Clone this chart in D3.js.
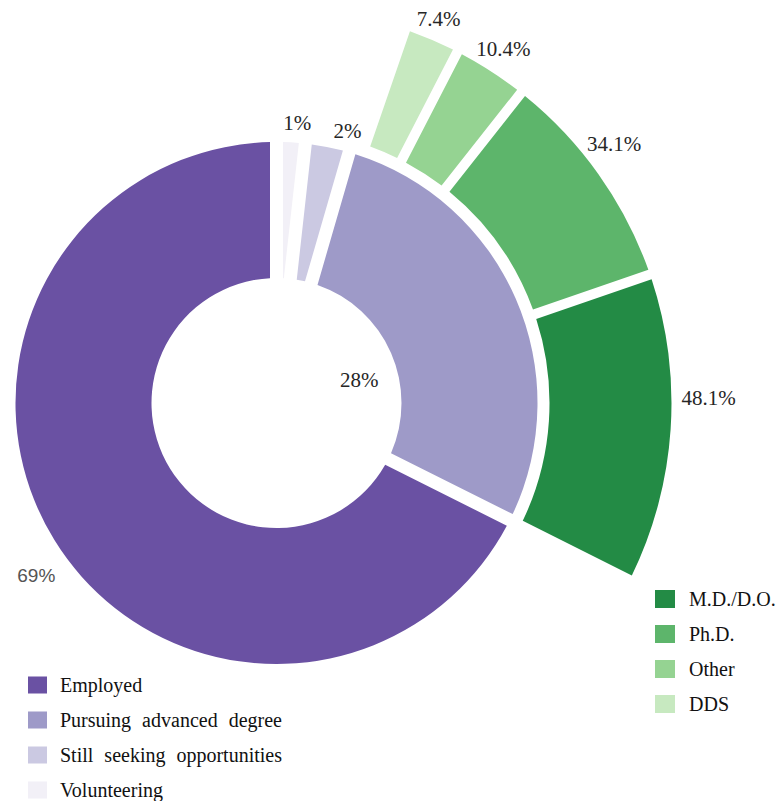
<!DOCTYPE html>
<html>
<head>
<meta charset="utf-8">
<script src="https://cdn.jsdelivr.net/npm/d3@7"></script>
<style>
  html, body { margin: 0; padding: 0; background: #fff; }
  svg { display: block; }
</style>
</head>
<body>
<svg id="chart" width="783" height="801"></svg>
<script>
// Post-graduation outcomes (inner ring) and the breakdown of advanced degrees (outer ring)
const outcomeLabels = ["Employed", "Pursuing advanced degree", "Still seeking opportunities", "Volunteering"];
const outcomeValues = [69, 28, 2, 1];
const outcomeColors = ["#6a51a3", "#9e9ac8", "#cbc9e2", "#f2f0f7"];

const degreeLabels = ["M.D./D.O.", "Ph.D.", "Other", "DDS"];
const degreeValues = [48.1, 34.1, 10.4, 7.4];
const degreeColors = ["#238b45", "#5db56b", "#95d392", "#c7e9c0"];

const W = 783, H = 801;
const cx = 276.5, cy = 403;
const serif = "'Liberation Serif', 'Times New Roman', serif";
const sans = "'Liberation Sans', Arial, sans-serif";

const svg = d3.select("#chart");
const g = svg.append("g").attr("transform", `translate(${cx},${cy})`);

// Inner ring: drawn clockwise from 12 o'clock, smallest categories first
const inner = { r0: 125, r1: 261, gap: 13 };
const outcomes = outcomeLabels.map((name, i) => ({ name, value: outcomeValues[i], color: outcomeColors[i] })).reverse();
const pieInner = d3.pie().sort(null).value(d => d.value).padAngle(inner.gap / inner.r1);
const innerArcs = pieInner(outcomes);
const arcInner = d3.arc().innerRadius(inner.r0).outerRadius(inner.r1).padRadius(inner.r1);

g.selectAll("path.outcome")
  .data(innerArcs)
  .join("path")
  .attr("class", "outcome")
  .attr("d", arcInner)
  .attr("fill", d => d.data.color);

// Outer ring: split of the "Pursuing advanced degree" slice
const outer = { r0: 273, r1: 395, gap: 10 };
const pursuing = innerArcs.find(d => d.data.name === "Pursuing advanced degree");
const degrees = degreeLabels.map((name, i) => ({ name, value: degreeValues[i], color: degreeColors[i] })).reverse();
const pieOuter = d3.pie().sort(null).value(d => d.value)
  .startAngle(pursuing.startAngle + pursuing.padAngle)
  .endAngle(pursuing.endAngle)
  .padAngle(outer.gap / outer.r1);
const outerArcs = pieOuter(degrees);
const arcOuter = d3.arc().innerRadius(outer.r0).outerRadius(outer.r1).padRadius(outer.r1);

g.selectAll("path.degree")
  .data(outerArcs)
  .join("path")
  .attr("class", "degree")
  .attr("d", arcOuter)
  .attr("fill", d => d.data.color);

// Places a label just outside a ring, pushed out by half of its own box
function outsideLabel(text, angle, radius, font, size, color) {
  const t = g.append("text")
    .text(text)
    .attr("font-family", font)
    .attr("font-size", size)
    .attr("fill", color)
    .attr("text-anchor", "middle")
    .attr("dominant-baseline", "central");
  const w = t.node().getComputedTextLength();
  const s = Math.sin(angle), c = Math.cos(angle);
  t.attr("x", radius * s + (w / 2) * s)
   .attr("y", -radius * c - (size / 2) * c);
  return t;
}

const fmt = v => v + "%";
// where along each slice (0 = start, 1 = end) its label sits
const labelAlong = {
  "Employed": 0.48,
  "Pursuing advanced degree": 0.58,
  "Still seeking opportunities": 0.83,
  "Volunteering": 0.66
};
const along = (d, f) => d.startAngle + f * (d.endAngle - d.startAngle);

innerArcs.forEach(d => {
  const a = along(d, labelAlong[d.data.name]);
  if (d.data.name === "Pursuing advanced degree") {
    // its breakdown ring sits outside, so the share goes inside the hole
    g.append("text")
      .text(fmt(d.data.value))
      .attr("x", 86 * Math.sin(a))
      .attr("y", -86 * Math.cos(a))
      .attr("font-family", serif)
      .attr("font-size", 21)
      .attr("fill", "#262626")
      .attr("text-anchor", "middle")
      .attr("dominant-baseline", "central");
  } else if (d.data.name === "Employed") {
    outsideLabel(fmt(d.data.value), a, 280, sans, 19, "#555");
  } else {
    outsideLabel(fmt(d.data.value), a, 270, serif, 21, "#262626");
  }
});

outerArcs.forEach(d => {
  outsideLabel(fmt(d.data.value), along(d, 0.4), 405, serif, 21, "#262626");
});

// Legends
const legendLeft = svg.append("g").attr("transform", "translate(28,685)");
outcomeLabels.forEach((name, i) => {
  const row = legendLeft.append("g").attr("transform", `translate(0,${i * 35})`);
  row.append("rect").attr("x", 0).attr("y", -8.5).attr("width", 19).attr("height", 17)
    .attr("fill", outcomeColors[i]);
  row.append("text").text(name)
    .attr("x", 32).attr("y", 0)
    .attr("font-family", serif).attr("font-size", 20)
    .attr("word-spacing", 6)
    .attr("fill", "#111")
    .attr("dominant-baseline", "central");
});

const legendRight = svg.append("g").attr("transform", "translate(655,599)");
degreeLabels.forEach((name, i) => {
  const row = legendRight.append("g").attr("transform", `translate(0,${i * 35})`);
  row.append("rect").attr("x", 0).attr("y", -9).attr("width", 20).attr("height", 18)
    .attr("fill", degreeColors[i]);
  row.append("text").text(name)
    .attr("x", 34).attr("y", 0)
    .attr("font-family", serif).attr("font-size", 20)
    .attr("fill", "#111")
    .attr("dominant-baseline", "central");
});
</script>
</body>
</html>
